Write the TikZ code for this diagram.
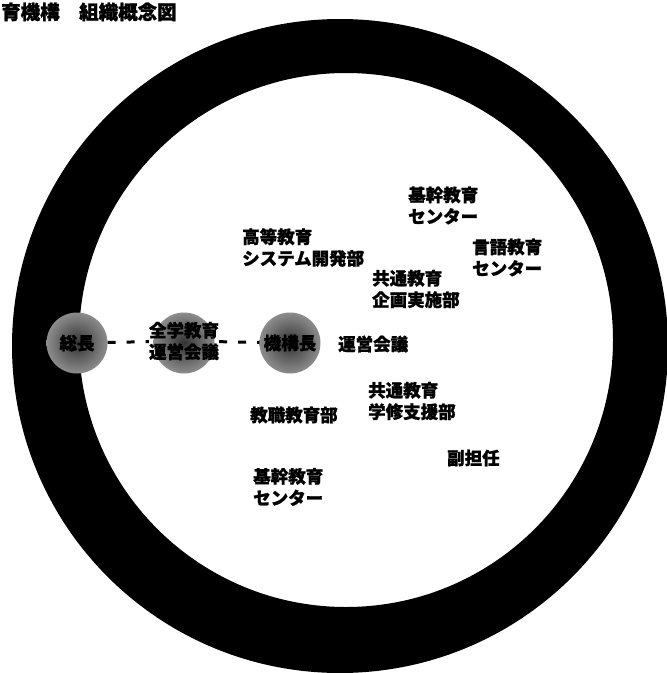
\documentclass[tikz,border=0pt]{standalone}
\usepackage{fontspec}
\newfontfamily\jp{Noto Sans CJK JP}[BoldFeatures={FakeBold=1.2}]
\begin{document}
\begin{tikzpicture}[x=1pt,y=-1pt,
  lbl/.style={anchor=west,inner sep=0pt,align=left,font=\jp\bfseries\fontsize{17.5}{21.5}\selectfont},
  orb/.style={circle,minimum size=61pt,inner sep=0pt,shade,inner color=black!80,outer color=black!45,font=\jp\bfseries\fontsize{17.5}{21.5}\selectfont},
  dashline/.style={draw=black,line width=3pt,dash pattern=on 8pt off 11pt}]
\useasboundingbox (0,0) rectangle (667,673);
% ring
\fill[black,even odd rule] (340,346) ellipse [x radius=328,y radius=327] (346,340) circle [radius=267];
% title
\node[lbl,font=\jp\bfseries\fontsize{19.5}{21}\selectfont] (title) at (1,12) {育機構　組織概念図};
% circles
\node[orb] (sou) at (77,343) {総長};
\node[orb] (zen) at (184,343) {};
\node[lbl,anchor=center] (zenlbl) at (184,341) {全学教育\\運営会議};
\node[orb] (kik) at (290,343) {機構長};
\draw[dashline] (sou) -- (zenlbl);
\draw[dashline] (zenlbl) -- (kik);
% labels
\node[lbl] (unei) at (338,344) {運営会議};
\node[lbl] (koto) at (242,247.5) {高等教育\\システム開発部};
\node[lbl] (kikan1) at (408,205.5) {基幹教育\\センター};
\node[lbl] (gengo) at (472,257.5) {言語教育\\センター};
\node[lbl] (kikaku) at (372,289) {共通教育\\企画実施部};
\node[lbl] (gakushu) at (368,401) {共通教育\\学修支援部};
\node[lbl] (kyoshoku) at (250,415) {教職教育部};
\node[lbl] (fuku) at (447,458) {副担任};
\node[lbl] (kikan2) at (253,487) {基幹教育\\センター};
\end{tikzpicture}
\end{document}
